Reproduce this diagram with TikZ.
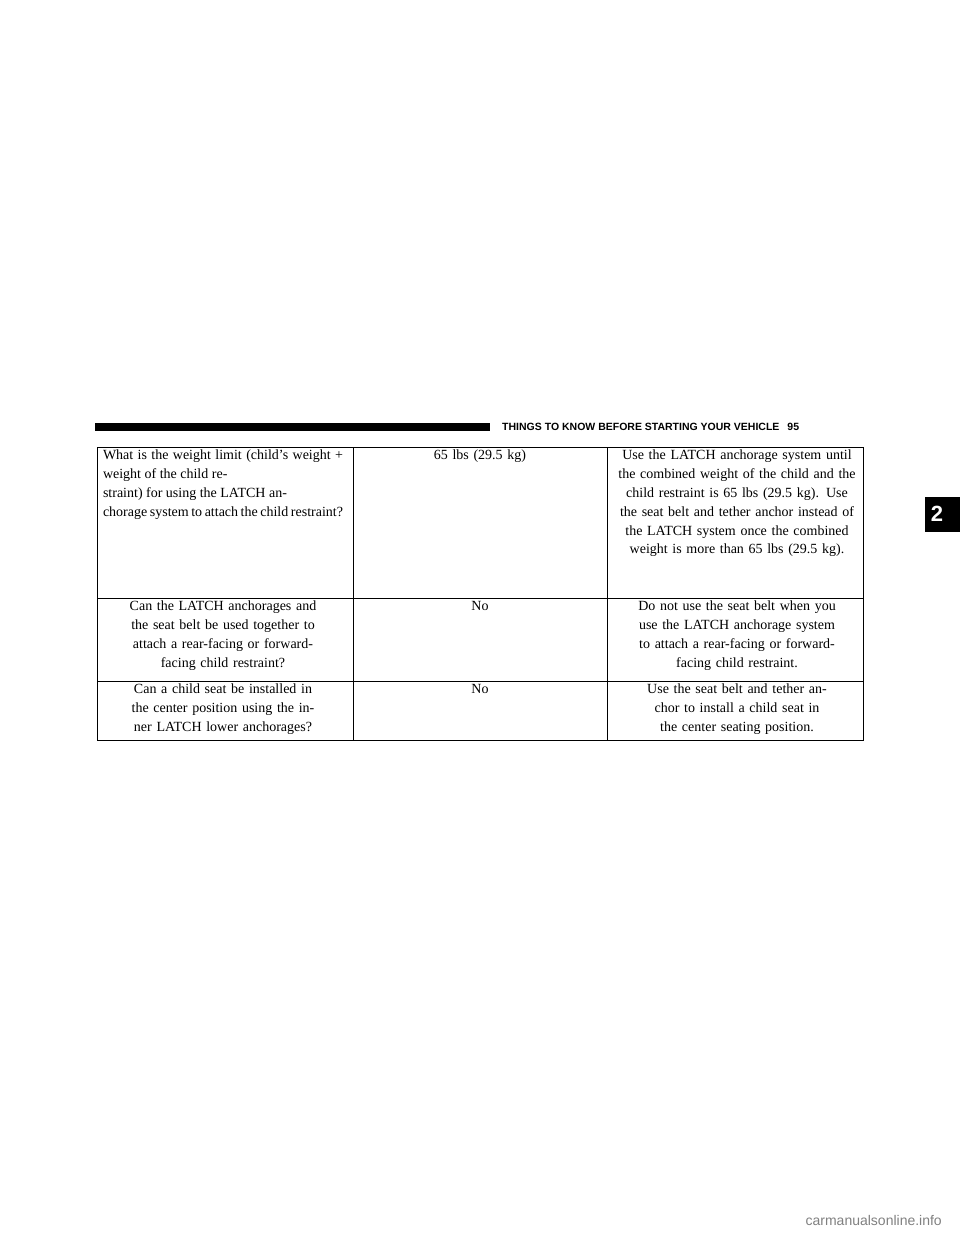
\documentclass[tikz,border=0pt]{standalone}
\usepackage{fontspec}
\setmainfont{Liberation Serif}
\newfontfamily\hdr{Liberation Sans}
\begin{document}
\begin{tikzpicture}[x=1pt,y=-1pt,
  cell/.style={anchor=north,inner sep=0pt,font=\fontsize{14}{18.8}\selectfont,align=center,text width=245pt},
  grid/.style={line width=0.8pt}]
\useasboundingbox (0,0) rectangle (960,1242);
\fill (95,423) rectangle (490,431);
\node[anchor=west,inner sep=0pt,font=\hdr\bfseries\fontsize{10.5}{12}\selectfont] (h) at (502,427) {THINGS TO KNOW BEFORE STARTING YOUR VEHICLE\hspace{8pt}95};
\fill (925,497) rectangle (960,532);
\node[white,font=\hdr\bfseries\fontsize{22}{24}\selectfont] (tab) at (937,514) {2};
\draw[grid] (97,447) rectangle (863,740);
\draw[grid] (97,598) -- (863,598) (97,681) -- (863,681);
\draw[grid] (353,447) -- (353,740) (607,447) -- (607,740);
\node[cell,align=justify,text width=240pt] (a1) at (223,450) {What is the weight limit (child's weight + weight of the child re-\\straint) for using the LATCH an-\\chorage system to attach the child restraint?};
\node[cell] (b1) at (480,450) {65 lbs (29.5 kg)};
\node[cell] (c1) at (737,450) {Use the LATCH anchorage system until the combined weight of the child and the child restraint is 65~lbs (29.5 kg). Use the seat belt and tether anchor instead of the LATCH system once the combined weight is more than 65~lbs (29.5~kg).};
\node[cell] (a2) at (223,601) {Can the LATCH anchorages and the seat belt be used together to attach a rear-facing or forward-\\facing child restraint?};
\node[cell] (b2) at (480,601) {No};
\node[cell] (c2) at (737,601) {Do not use the seat belt when you use the LATCH anchorage system to attach a rear-facing or forward-\\facing child restraint.};
\node[cell] (a3) at (223,684) {Can a child seat be installed in the center position using the inner LATCH lower anchorages?};
\node[cell] (b3) at (480,684) {No};
\node[cell] (c3) at (737,684) {Use the seat belt and tether anchor to install a child seat in the center seating position.};
\node[anchor=east,inner sep=0pt,gray,font=\hdr\fontsize{14}{16}\selectfont] (wm) at (942,1220) {carmanualsonline.info};
\end{tikzpicture}
\end{document}
